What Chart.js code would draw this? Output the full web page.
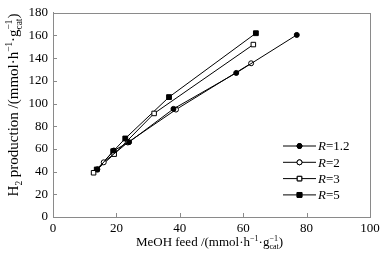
<!DOCTYPE html>
<html>
<head>
<meta charset="utf-8">
<script src="https://cdn.jsdelivr.net/npm/chart.js@4"></script>
<style>
  html, body { margin: 0; padding: 0; background: #fff; }
  #wrap { width: 390px; height: 256px; }
</style>
</head>
<body>
<div id="wrap"><canvas id="grafico"></canvas></div>
<script>
// datos
var seriesNames = ['1.2', '2', '3', '5'];
var feed12 = [14, 19.2, 24, 38, 57.8, 76.9];
var h2_12  = [42, 58.6, 66, 95.3, 127, 160.5];
var feed2  = [16, 23.6, 38.8, 62.5];
var h2_2   = [48.2, 65.7, 94.7, 135.5];
var feed3  = [12.8, 19.3, 31.9, 63.2];
var h2_3   = [39, 55.4, 91.3, 152];
var feed5  = [13.8, 19, 22.8, 36.6, 64];
var h2_5   = [41.9, 58, 69.2, 105.7, 162];
var xTicks = [0, 20, 40, 60, 80, 100];
var yTicks = [0, 20, 40, 60, 80, 100, 120, 140, 160, 180];

var FONT = '"Liberation Serif", "Times New Roman", serif';
var AXIS = '#8a8a8a';

function toPoints(xs, ys) {
  return xs.map(function (x, i) { return { x: x, y: ys[i] }; });
}

var estilos = [
  { style: 'circle', fill: '#000', r: 2.5 },
  { style: 'circle', fill: '#fff', r: 2.5 },
  { style: 'rect', fill: '#fff', r: 3.2 },
  { style: 'rect', fill: '#000', r: 3.4 }
];
var datos = [toPoints(feed12, h2_12), toPoints(feed2, h2_2), toPoints(feed3, h2_3), toPoints(feed5, h2_5)];

var datasets = seriesNames.map(function (n, i) {
  return {
    label: 'R=' + n,
    data: datos[i],
    showLine: true,
    borderColor: '#000',
    borderWidth: 1,
    backgroundColor: estilos[i].fill,
    pointStyle: estilos[i].style,
    pointRadius: estilos[i].r,
    pointBorderColor: '#000',
    pointBorderWidth: 1,
    pointBackgroundColor: estilos[i].fill,
    tension: 0
  };
});

// texto con subindices / superindices
function drawRich(ctx, parts, size) {
  var w = 0;
  parts.forEach(function (p) {
    if (p.stack) {
      ctx.font = (size * 0.62) + 'px ' + FONT;
      w += Math.max(ctx.measureText(p.sub).width, ctx.measureText(p.sup).width);
    } else {
      ctx.font = (p.s ? size * 0.62 : size) + 'px ' + FONT;
      w += ctx.measureText(p.t).width;
    }
  });
  var x = -w / 2;
  ctx.textBaseline = 'alphabetic';
  ctx.textAlign = 'left';
  parts.forEach(function (p) {
    if (p.stack) {
      ctx.font = (size * 0.62) + 'px ' + FONT;
      ctx.fillText(p.sup, x, -size * 0.42);
      ctx.fillText(p.sub, x, size * 0.25);
      x += Math.max(ctx.measureText(p.sub).width, ctx.measureText(p.sup).width);
    } else if (p.s) {
      ctx.font = (size * 0.62) + 'px ' + FONT;
      ctx.fillText(p.t, x, p.s === 'sup' ? -size * 0.42 : size * 0.25);
      x += ctx.measureText(p.t).width;
    } else {
      ctx.font = size + 'px ' + FONT;
      ctx.fillText(p.t, x, 0);
      x += ctx.measureText(p.t).width;
    }
  });
}

var extras = {
  id: 'extras',
  afterDraw: function (chart) {
    var ctx = chart.ctx, a = chart.chartArea;
    var sx = chart.scales.x, sy = chart.scales.y;
    ctx.save();
    // marco
    ctx.strokeStyle = AXIS;
    ctx.lineWidth = 1;
    ctx.strokeRect(Math.round(a.left) + 0.5, Math.round(a.top) + 0.5, Math.round(a.right - a.left), Math.round(a.bottom - a.top));
    // marcas hacia dentro
    ctx.beginPath();
    xTicks.forEach(function (v) {
      var px = Math.round(sx.getPixelForValue(v)) + 0.5;
      ctx.moveTo(px, a.bottom); ctx.lineTo(px, a.bottom - 4);
    });
    yTicks.forEach(function (v) {
      var py = Math.round(sy.getPixelForValue(v)) + 0.5;
      ctx.moveTo(a.left, py); ctx.lineTo(a.left + 4, py);
    });
    ctx.stroke();

    // titulos de ejes
    ctx.fillStyle = '#000';
    ctx.save();
    ctx.translate((a.left + a.right) / 2 - 2, 246);
    drawRich(ctx, [{ t: 'MeOH feed /(mmol·h' }, { t: '−1', s: 'sup' }, { t: '·g' },
      { stack: true, sub: 'cat', sup: '−1' }, { t: ')' }], 13);
    ctx.restore();
    ctx.save();
    ctx.translate(18, 105);
    ctx.rotate(-Math.PI / 2);
    drawRich(ctx, [{ t: 'H' }, { t: '2', s: 'sub' }, { t: ' production /(mmol·h' }, { t: '−1', s: 'sup' },
      { t: '·g' }, { stack: true, sub: 'cat', sup: '−1' }, { t: ')' }], 15);
    ctx.restore();

    // leyenda
    chart.data.datasets.forEach(function (ds, i) {
      var y = 146 + i * 16.3;
      ctx.strokeStyle = '#000';
      ctx.lineWidth = 1;
      ctx.beginPath();
      ctx.moveTo(283, y); ctx.lineTo(316, y);
      ctx.stroke();
      Chart.helpers.drawPoint(ctx, { pointStyle: ds.pointStyle, radius: ds.pointRadius, borderWidth: 1 }, 299.5, y);
      ctx.fillStyle = ds.pointBackgroundColor;
      ctx.strokeStyle = '#000';
      ctx.fill(); ctx.stroke();
      ctx.fillStyle = '#000';
      ctx.textBaseline = 'middle';
      ctx.textAlign = 'left';
      ctx.font = 'italic 13px ' + FONT;
      ctx.fillText('R', 318, y + 1);
      var w = ctx.measureText('R').width;
      ctx.font = '13px ' + FONT;
      ctx.fillText('=' + seriesNames[i], 318 + w, y + 1);
    });
    ctx.restore();
  }
};

var ctx1 = document.getElementById('grafico').getContext('2d');
var grafico = new Chart(ctx1, {
  type: 'scatter',
  data: { datasets: datasets },
  options: {
    responsive: true,
    maintainAspectRatio: false,
    animation: false,
    layout: { padding: { top: 8, right: 20, left: 0, bottom: 0 } },
    plugins: { legend: { display: false }, tooltip: { enabled: false } },
    scales: {
      x: {
        type: 'linear', min: 0, max: 100,
        afterBuildTicks: function (s) { s.ticks = xTicks.map(function (v) { return { value: v }; }); },
        afterFit: function (s) { s.height = 39; },
        grid: { display: false, drawTicks: false },
        border: { display: true, color: AXIS },
        ticks: { color: '#000', padding: 4, maxRotation: 0, font: { family: FONT, size: 13 } }
      },
      y: {
        type: 'linear', min: 0, max: 180,
        afterBuildTicks: function (s) { s.ticks = yTicks.map(function (v) { return { value: v }; }); },
        afterFit: function (s) { s.width = 53; },
        grid: { display: false, drawTicks: false },
        border: { display: true, color: AXIS },
        ticks: { color: '#000', padding: 5, font: { family: FONT, size: 13 } }
      }
    }
  },
  plugins: [extras]
});
</script>
</body>
</html>
